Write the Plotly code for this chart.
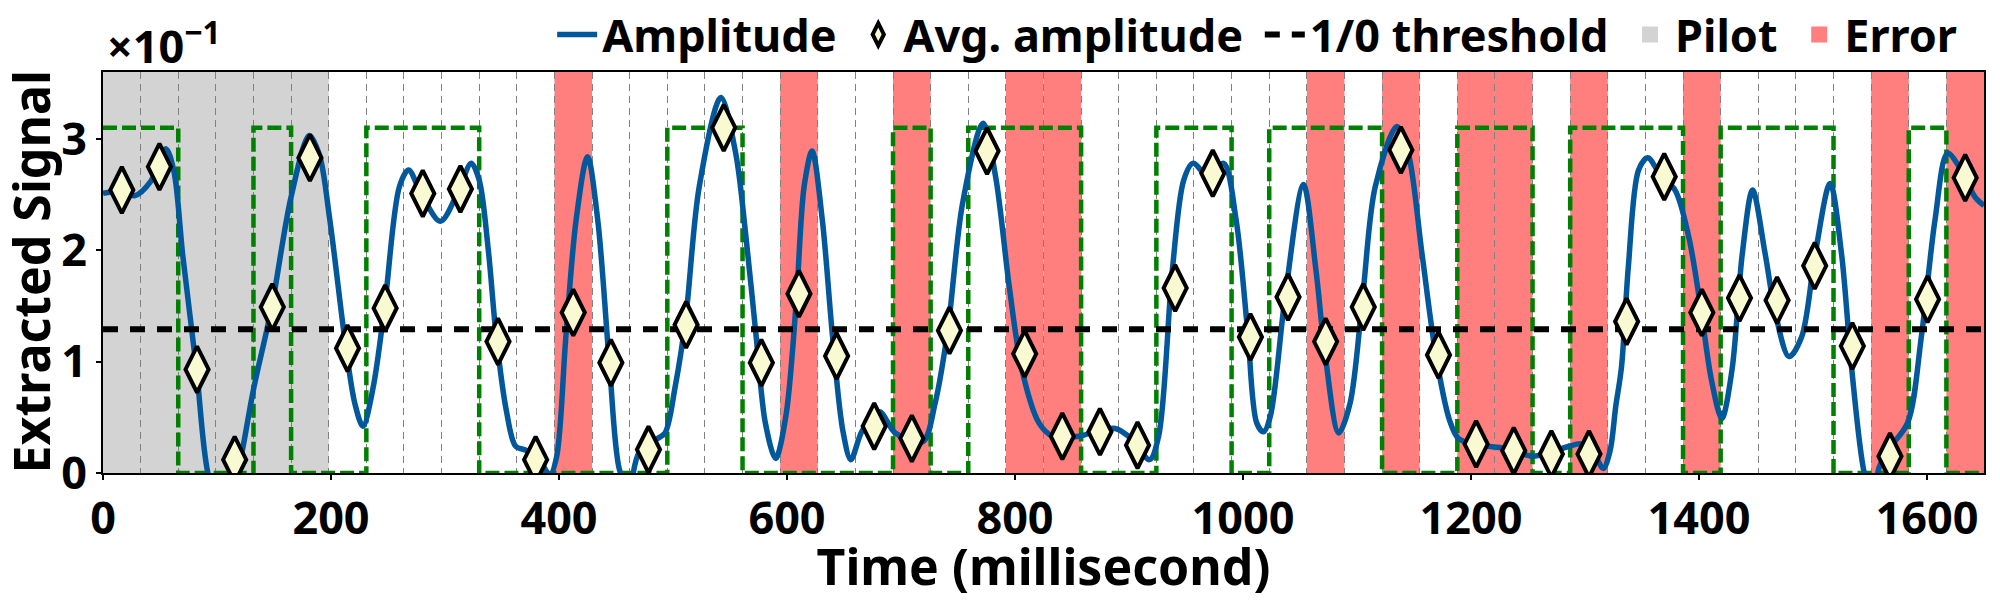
# ----------------------------------------------------------LIBRARIES----------------------------------------------------------#
import plotly.graph_objects as go
# ----------------------------------------------------------VARIABLES----------------------------------------------------------#
symbolMs = 33            # duration of one symbol
pilotSymbols = 6
highLevel = 3.1          # level of the dashed square wave for a sent "1"
threshold = 1.29
yMax = 3.6
xMax = 1650
fontName = "Noto Sans"

# bits that were sent, one per symbol
sentBits = [1, 1, 0, 0, 1, 0, 0, 1, 1, 1,
            0, 0, 0, 0, 0, 1, 1, 0, 0, 0,
            0, 1, 0, 1, 1, 1, 0, 0, 1, 1,
            0, 1, 1, 1, 0, 0, 1, 1, 0, 1,
            1, 1, 0, 1, 1, 1, 0, 0, 1, 0]
# symbols that were decoded wrongly
errorSymbols = [12, 18, 21, 24, 25, 32, 34, 36, 37, 39, 42, 47, 49]
# average amplitude of each symbol (x10^-1)
avgAmplitude = [2.54, 2.75, 0.93, 0.12, 1.49, 2.83, 1.12, 1.48, 2.51, 2.55,
                1.18, 0.12, 1.44, 0.99, 0.21, 1.33, 3.10, 0.99, 1.61, 1.05,
                0.42, 0.31, 1.28, 2.89, 1.07, 0.33, 0.37, 0.25, 1.66, 2.69,
                1.22, 1.58, 1.18, 1.49, 2.90, 1.06, 0.26, 0.20, 0.17, 0.17,
                1.36, 2.66, 1.44, 1.57, 1.55, 1.86, 1.14, 0.15, 1.56, 2.65]
# extracted signal amplitude (x10^-1), sampled off the curve
ampTime = [0, 14, 28, 42, 55, 62, 70, 82, 92, 105, 118, 132, 148, 165, 181, 190, 199, 213, 221, 228,
           237, 247, 260, 268, 279, 296, 312, 323, 330, 338, 345, 354, 362, 372, 385, 392, 398, 406, 415, 425,
           434, 444, 453, 461, 470, 485, 493, 502, 511, 523, 542, 555, 564, 573, 581, 590, 599, 608, 615, 622,
           631, 640, 649, 656, 666, 681, 695, 719, 730, 741, 754, 772, 783, 795, 806, 821, 833, 856, 870, 888,
           903, 918, 926, 938, 948, 956, 970, 983, 994, 1004, 1012, 1018, 1024, 1037, 1053, 1064, 1072, 1084, 1094, 1105,
           1116, 1135, 1145, 1157, 1169, 1181, 1189, 1207, 1230, 1254, 1268, 1286, 1297, 1309, 1316, 1322, 1327, 1332, 1338, 1347,
           1355, 1367, 1379, 1391, 1401, 1411, 1420, 1429, 1438, 1447, 1458, 1467, 1479, 1490, 1502, 1515, 1525, 1534, 1545, 1552,
           1558, 1566, 1583, 1595, 1607, 1618, 1630, 1642, 1650]
ampValue = [2.51, 2.53, 2.49, 2.62, 2.91, 2.72, 1.95, 0.93, 0.0, -0.4, 0.0, 0.75, 1.49, 2.48, 3.03, 2.85, 2.27, 1.13, 0.62, 0.42,
            0.77, 1.49, 2.57, 2.72, 2.51, 2.26, 2.54, 2.78, 2.63, 2.0, 1.22, 0.55, 0.24, 0.2, 0.08, -0.02, 0.15, 1.22, 2.27, 2.84,
            2.27, 1.01, 0.03, -0.15, 0.18, 0.30, 0.36, 0.78, 1.375, 2.57, 3.37, 2.87, 2.12, 1.22, 0.45, 0.13, 0.51, 1.52, 2.57, 2.89,
            2.27, 1.22, 0.38, 0.12, 0.38, 0.55, 0.36, 0.28, 0.63, 1.28, 2.42, 3.14, 2.66, 1.67, 0.93, 0.45, 0.33, 0.33, 0.37, 0.40,
            0.30, 0.12, 0.33, 1.82, 2.63, 2.78, 2.66, 2.78, 2.27, 1.28, 0.45, 0.37, 0.51, 1.585, 2.59, 1.82, 1.07, 0.36, 0.63, 1.585,
            2.57, 3.11, 2.87, 1.97, 1.07, 0.48, 0.31, 0.25, 0.22, 0.15, 0.18, 0.24, 0.26, 0.15, 0.04, 0.2, 0.6, 0.95, 1.85, 2.72,
            2.83, 2.66, 2.54, 2.12, 1.52, 0.83, 0.49, 0.93, 1.97, 2.54, 1.97, 1.435, 1.045, 1.22, 1.97, 2.60, 1.97, 0.93, 0.0, -0.2,
            0.05, 0.21, 0.45, 1.22, 2.27, 2.87, 2.72, 2.48, 2.40]
xTicks = [0, 200, 400, 600, 800, 1000, 1200, 1400, 1600]
yTicks = [0, 1, 2, 3]

blueColor = "#03589B"
errorColor = "#FF7F7F"
pilotColor = "#D3D3D3"
diamondColor = "#FAFAD2"
gap = "\u00a0"   # pads legend entries apart
# -----------------------------------------------------------MAINCODE----------------------------------------------------------#
nSymbols = len(sentBits)
symbolEdges = [i * symbolMs for i in range(nSymbols + 1)]
symbolCenters = [i * symbolMs + symbolMs / 2 for i in range(nSymbols)]
# square wave of the sent bits, repeat last level so the final step is drawn
bitLevels = [b * highLevel for b in sentBits] + [sentBits[-1] * highLevel]

fig = go.Figure()

# sent bits (dashed green square wave)
fig.add_trace(go.Scatter(x=symbolEdges, y=bitLevels, mode="lines", line_shape="hv",
                         line=dict(color="green", width=4.5, dash="14px,5px"), showlegend=False,
                         hoverinfo="skip"))
# amplitude curve
fig.add_trace(go.Scatter(x=ampTime, y=ampValue, mode="lines", name="Amplitude" + gap,
                         line=dict(color=blueColor, width=5.5, shape="spline", smoothing=0.9), legendrank=1))
# 1/0 threshold
fig.add_trace(go.Scatter(x=[0, xMax], y=[threshold, threshold], mode="lines", name="1/0 threshold" + gap,
                         line=dict(color="black", width=6, dash="15px,12px"), legendrank=3))
# average amplitude per symbol
fig.add_trace(go.Scatter(x=symbolCenters, y=avgAmplitude, mode="markers", name="Avg. amplitude" + gap,
                         marker=dict(symbol="diamond-tall", size=33, color=diamondColor,
                                     line=dict(color="black", width=4)), legendrank=2))
# legend entries for the shaded regions
fig.add_trace(go.Scatter(x=[None], y=[None], mode="markers", name="Pilot" + gap,
                         marker=dict(symbol="square", size=30, color=pilotColor), legendrank=4))
fig.add_trace(go.Scatter(x=[None], y=[None], mode="markers", name="Error",
                         marker=dict(symbol="square", size=30, color=errorColor), legendrank=5))

# shaded pilot and error regions, under the grid
fig.add_vrect(x0=0, x1=pilotSymbols * symbolMs, fillcolor=pilotColor, line_width=0, layer="below", opacity=1)
for s in errorSymbols:
    fig.add_vrect(x0=s * symbolMs, x1=(s + 1) * symbolMs, fillcolor=errorColor, line_width=0,
                  layer="below", opacity=1)

boldFont = dict(family=fontName, color="black", weight="bold")
fig.update_xaxes(range=[0, xMax], tickvals=xTicks, ticks="outside", ticklen=5, tickwidth=2, tickcolor="black",
                 showline=True, linecolor="black", linewidth=2, mirror=True, showgrid=False, zeroline=False,
                 automargin=False, tickfont=dict(size=45, **boldFont),
                 title=dict(text="Time (millisecond)", font=dict(size=50, **boldFont), standoff=13),
                 minor=dict(tick0=0, dtick=symbolMs, showgrid=True, gridcolor="#808080", gridwidth=1.2,
                            griddash="7px,5px"))
fig.update_yaxes(range=[0, yMax], tickvals=yTicks, ticks="outside", ticklen=5, tickwidth=2, tickcolor="black",
                 showline=True, linecolor="black", linewidth=2, mirror=True, showgrid=False, zeroline=False,
                 automargin=False, tickfont=dict(size=45, **boldFont))

# y title sits further left than an axis title may go, so it is an annotation
fig.add_annotation(text="Extracted Signal", textangle=-90, xref="paper", yref="paper", x=0, y=0.5,
                   xanchor="center", yanchor="middle", showarrow=False, xshift=-73,
                   font=dict(size=50, **boldFont))
fig.add_annotation(text="×10<sup>−1</sup>", xref="paper", yref="paper", x=0, y=1, xanchor="left",
                   yanchor="bottom", showarrow=False, font=dict(size=45, **boldFont), xshift=2, yshift=-6)

# the page body has an 8px margin, so the figure is a bit smaller than the window
fig.update_layout(width=1992, height=592, plot_bgcolor="white", paper_bgcolor="white",
                  margin=dict(l=95, r=16, t=64, b=127),
                  font=dict(family=fontName),
                  legend=dict(orientation="h", xref="container", yref="container", x=0.981, xanchor="right",
                              y=0.955, yanchor="middle", font=dict(size=45, **boldFont),
                              bgcolor="rgba(0,0,0,0)", itemwidth=40, tracegroupgap=0))

fig.write_html("out.html")
